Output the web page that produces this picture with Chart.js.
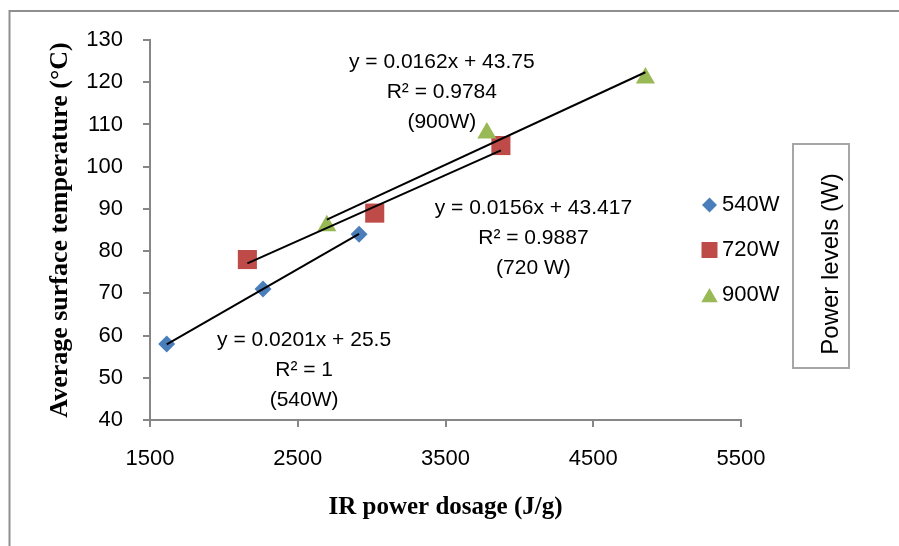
<!DOCTYPE html>
<html>
<head>
<meta charset="utf-8">
<script src="https://cdn.jsdelivr.net/npm/chart.js@4.4.1/dist/chart.umd.min.js"></script>
<style>
  html, body { margin: 0; padding: 0; background: #fff; }
  #wrap { width: 899px; height: 546px; position: relative; }
</style>
</head>
<body>
<div id="wrap"><canvas id="tempChart"></canvas></div>
<script>
// measured points per power level: dosage (J/g) vs surface temperature (°C)
const seriesNames = ['540W', '720W', '900W'];
const dose540 = [1613, 2265, 2915];
const temp540 = [58, 71, 84];
const dose720 = [2159, 3021, 3875];
const temp720 = [78, 89, 105];
const dose900 = [2697, 3780, 4853];
const temp900 = [86, 108, 121];

// linear fits: [slope, intercept, R²]
const fit540 = [0.0201, 25.5, 1];
const fit720 = [0.0156, 43.417, 0.9887];
const fit900 = [0.0162, 43.75, 0.9784];
const fitTags = ['(540W)', '(720 W)', '(900W)'];
// where each equation block sits (x in J/g, y in °C, first line)
const tagAnchorX = [2543, 4095, 3475];
const tagAnchorY = [58.9, 90.2, 124.8];

const xTicks = [1500, 2500, 3500, 4500, 5500];
const yTicks = [40, 50, 60, 70, 80, 90, 100, 110, 120, 130];

const colors = ['#4a7ebb', '#be4b48', '#98b954'];
const styles = ['rectRot', 'rect', 'triangle'];
const radii = [8.5, 13.5, 11];

const sansFont = "'Liberation Sans', Arial, sans-serif";
const serifFont = "'Liberation Serif', 'Times New Roman', serif";

const doses = [dose540, dose720, dose900];
const temps = [temp540, temp720, temp900];
const fits = [fit540, fit720, fit900];

function toPoints(xs, ys) {
    return xs.map((x, i) => ({ x: x, y: ys[i] }));
}

function trendPoints(xs, fit) {
    const lo = Math.min(...xs), hi = Math.max(...xs);
    return [lo, hi].map(x => ({ x: x, y: fit[0] * x + fit[1] }));
}

const datasets = [];
seriesNames.forEach((name, i) => {
    datasets.push({
        type: 'scatter',
        label: name,
        data: toPoints(doses[i], temps[i]),
        pointStyle: styles[i],
        pointRadius: radii[i],
        pointHoverRadius: radii[i],
        backgroundColor: colors[i],
        borderColor: colors[i],
        pointBorderWidth: 0,
        order: 3 - i
    });
});
seriesNames.forEach((name, i) => {
    datasets.push({
        type: 'line',
        label: 'Linear (' + name + ')',
        data: trendPoints(doses[i], fits[i]),
        borderColor: '#000',
        borderWidth: 2,
        pointRadius: 0,
        fill: false,
        order: 0
    });
});

const decorations = {
    id: 'decorations',
    beforeDraw(chart) {
        const ctx = chart.ctx;
        ctx.save();
        ctx.fillStyle = '#fff';
        ctx.fillRect(0, 0, chart.width, chart.height);
        ctx.strokeStyle = '#8f8f8f';
        ctx.lineWidth = 2;
        ctx.beginPath();
        ctx.moveTo(9.5, chart.height);
        ctx.lineTo(9.5, 11);
        ctx.lineTo(chart.width, 11);
        ctx.stroke();
        ctx.restore();
    },
    afterDatasetsDraw(chart) {
        const ctx = chart.ctx;
        const xs = chart.scales.x, ys = chart.scales.y;
        ctx.save();
        ctx.fillStyle = '#000';
        ctx.font = '21px ' + sansFont;
        ctx.textAlign = 'center';
        ctx.textBaseline = 'middle';
        fits.forEach((fit, i) => {
            const cx = xs.getPixelForValue(tagAnchorX[i]);
            const cy = ys.getPixelForValue(tagAnchorY[i]);
            const lines = [
                'y = ' + fit[0] + 'x + ' + fit[1],
                'R\u00b2 = ' + fit[2],
                fitTags[i]
            ];
            lines.forEach((t, k) => ctx.fillText(t, cx, cy + k * 30));
        });
        ctx.restore();
    },
    afterDraw(chart) {
        const ctx = chart.ctx;
        ctx.save();
        // legend entries
        const legendR = [7.5, 11.3, 9.5];
        const rowY = [205, 250, 295];
        ctx.font = '22px ' + sansFont;
        ctx.textAlign = 'left';
        ctx.textBaseline = 'middle';
        seriesNames.forEach((name, i) => {
            ctx.fillStyle = colors[i];
            ctx.strokeStyle = colors[i];
            ctx.lineWidth = 0;
            Chart.helpers.drawPoint(ctx, { pointStyle: styles[i], radius: legendR[i], borderWidth: 0 }, 709.5, rowY[i] + (i === 2 ? 2.5 : 0));
            ctx.fillStyle = '#000';
            ctx.fillText(name, 722, rowY[i]);
        });
        // legend title box
        ctx.strokeStyle = '#a6a6a6';
        ctx.lineWidth = 2;
        ctx.strokeRect(793, 144, 56, 224);
        ctx.translate(831, 264);
        ctx.rotate(-Math.PI / 2);
        ctx.textAlign = 'center';
        ctx.font = '24px ' + sansFont;
        ctx.fillStyle = '#000';
        ctx.fillText('Power levels (W)', 0, 0);
        ctx.restore();
    }
};

const axisGray = '#868686';

new Chart(document.getElementById('tempChart'), {
    data: { datasets: datasets },
    options: {
        responsive: true,
        maintainAspectRatio: false,
        animation: false,
        layout: { padding: { left: 0, top: 40, right: 158, bottom: 0 } },
        plugins: {
            legend: { display: false },
            tooltip: { enabled: false }
        },
        scales: {
            x: {
                type: 'linear',
                min: xTicks[0],
                max: xTicks[xTicks.length - 1],
                afterBuildTicks: s => { s.ticks = xTicks.map(v => ({ value: v })); },
                afterFit: s => { s.height = 126; },
                border: { color: axisGray, width: 2 },
                grid: { drawOnChartArea: false, color: axisGray, lineWidth: 2, tickLength: 7 },
                ticks: {
                    color: '#000',
                    font: { family: sansFont, size: 22 },
                    padding: 19,
                    maxRotation: 0,
                    callback: v => String(v)
                },
                title: {
                    display: true,
                    text: 'IR power dosage (J/g)',
                    color: '#000',
                    font: { family: serifFont, size: 25, weight: 'bold' },
                    padding: 23
                }
            },
            y: {
                type: 'linear',
                min: yTicks[0],
                max: yTicks[yTicks.length - 1],
                afterBuildTicks: s => { s.ticks = yTicks.map(v => ({ value: v })); },
                afterFit: s => { s.width = 150; },
                border: { color: axisGray, width: 2 },
                grid: { drawOnChartArea: false, color: axisGray, lineWidth: 2, tickLength: 7 },
                ticks: {
                    color: '#000',
                    font: { family: sansFont, size: 22 },
                    padding: 20,
                    callback: v => String(v)
                },
                title: {
                    display: true,
                    text: 'Average surface temperature (\u00b0C)',
                    color: '#000',
                    font: { family: serifFont, size: 26, weight: 'bold' },
                    padding: 45
                }
            }
        }
    },
    plugins: [decorations]
});
</script>
</body>
</html>
